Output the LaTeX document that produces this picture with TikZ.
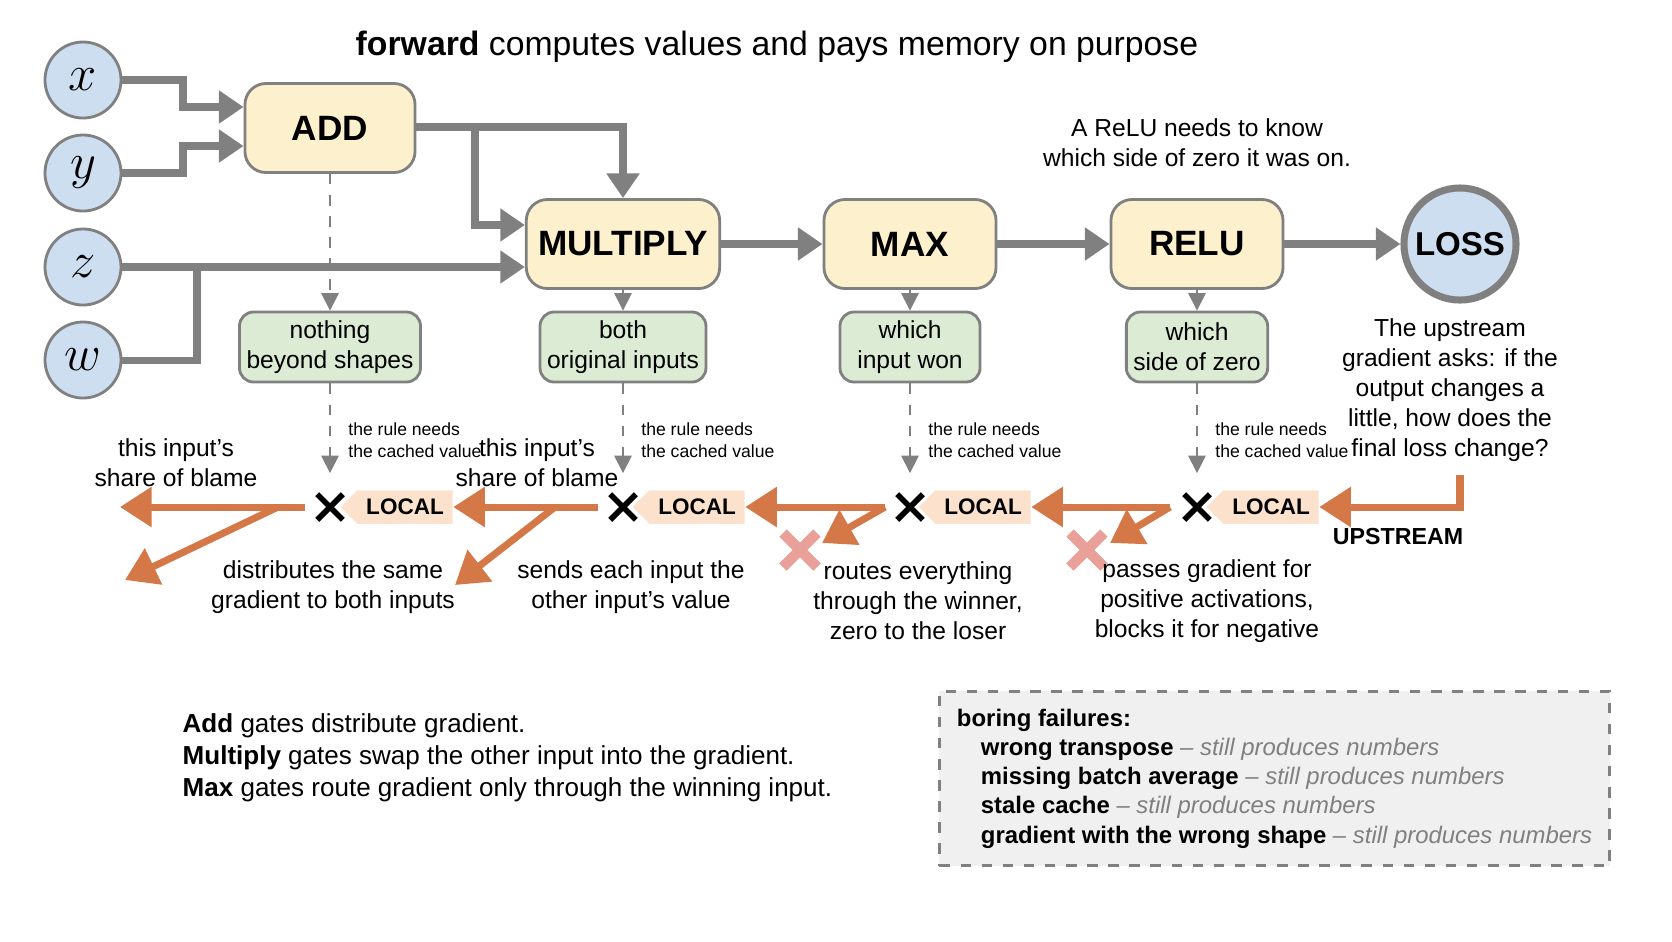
\documentclass[tikz,border=0pt]{standalone}
\usepackage{fontspec}
\setmainfont{Liberation Sans}
\usetikzlibrary{positioning,arrows.meta,shapes.symbols,shapes.misc}
\definecolor{gateFill}{RGB}{253,240,205}
\definecolor{noteFill}{RGB}{220,236,212}
\definecolor{varFill}{RGB}{204,222,240}
\definecolor{gradOrange}{RGB}{212,120,72}
\definecolor{localFill}{RGB}{252,226,204}
\definecolor{wireGray}{RGB}{128,128,128}
\definecolor{dropRed}{RGB}{232,160,152}
\newcommand{\fs}[1]{\fontsize{#1}{1.22\dimexpr#1pt\relax}\selectfont}

\tikzset{
    gate/.style={draw=wireGray, thick, fill=gateFill, rounded corners=6pt,
        minimum width=1.72cm, minimum height=0.89cm, font=\fs{10}\bfseries},
    var/.style={circle, draw=wireGray, thick, fill=varFill, minimum size=0.76cm,
        font=\Large\itshape},
    cache/.style={draw=wireGray, thick, fill=noteFill, rounded corners=4pt,
        minimum height=0.7cm, align=center, font=\fs{7}, inner sep=2pt},
    wire/.style={draw=wireGray, line width=2pt, -{Triangle[length=7pt,width=9pt]}},
    grad/.style={draw=gradOrange, line width=2pt, -{Triangle[length=9pt,width=11pt]}},
    look/.style={draw=wireGray, dashed, -{Triangle[length=5pt,width=5pt]}},
    localtag/.style={signal, signal to=west, fill=localFill, font=\fs{6.4}\bfseries,
        inner sep=2.5pt, minimum height=0.32cm},
    crossmark/.style={cross out, draw=black, line width=1.6pt, minimum size=0.2cm, inner sep=0pt},
    lbl/.style={font=\fs{7}, align=center},
    rule/.style={font=\fs{5}, align=left, anchor=west}
}

\begin{document}
\begin{tikzpicture}[x=0.01cm, y=-0.01cm]
    \useasboundingbox (0,0) rectangle (1672,941);

    % inputs and gates
    \node[var] (x) at (83,80) {$x$};
    \node[var] (y) at (83,173) {$y$};
    \node[var] (z) at (83,267) {$z$};
    \node[var] (w) at (83,360) {$w$};
    \node[gate, minimum width=1.7cm] (add) at (330,128) {ADD};
    \node[gate] (mul) at (623,244) {MULTIPLY};
    \node[gate] (max) at (910,244) {MAX};
    \node[gate] (relu) at (1197,244) {RELU};
    \node[circle, draw=wireGray, line width=2pt, fill=varFill, minimum size=1.12cm,
        inner sep=0pt, font=\fs{9.4}\bfseries] (loss) at (1460,244) {LOSS};

    \node[font=\fs{9.6}] (title) at (777,47) {\textbf{forward} computes values and pays memory on purpose};
    \node[lbl] (relunote) at (1197,143) {A ReLU needs to know\\which side of zero it was on.};

    % forward wires
    \draw[wire] (x.east) -| (183,107) -- (add.west |- 0,107);
    \draw[wire] (y.east) -| (183,146) -- (add.west |- 0,146);
    \draw[wire] (add.east |- 0,127) -| (mul.north);
    \draw[wire] (475,127) |- (mul.west |- 0,225);
    \draw[wire] (z.east) -- (mul.west |- 0,267);
    \draw[line width=2pt, wireGray] (w.east) -| (197,267);
    \draw[wire] (mul) -- (max);
    \draw[wire] (max) -- (relu);
    \draw[wire] (relu) -- (loss);

    % cached values
    \node[cache, minimum width=1.6cm] (c1) at (330,347) {nothing\\beyond shapes};
    \node[cache, minimum width=1.45cm] (c2) at (623,347) {both\\original inputs};
    \node[cache, minimum width=1.4cm] (c3) at (910,347) {which\\input won};
    \node[cache, minimum width=1.4cm] (c4) at (1197,347) {which\\side of zero};

    % multiply points and local tags
    \foreach \n/\px/\tx in {m1/330/405, m2/623/697, m3/910/983, m4/1197/1271}{
        \node[crossmark] (\n) at (\px,507) {};
        \node[localtag] (t\n) at (\tx,507) {LOCAL};
        \node[rule] (r\n) at (\px+6,440) {the rule needs\\the cached value};
    }
    \draw[look, dashed] (add.south) -- (c1.north);
    \draw[look, dashed] (mul.south) -- (c2.north);
    \draw[look, dashed] (max.south) -- (c3.north);
    \draw[look, dashed] (relu.south) -- (c4.north);
    \draw[look] (c1.south) -- ([yshift=6pt]m1.north);
    \draw[look] (c2.south) -- ([yshift=6pt]m2.north);
    \draw[look] (c3.south) -- ([yshift=6pt]m3.north);
    \draw[look] (c4.south) -- ([yshift=6pt]m4.north);

    % backward flow
    \coordinate (up) at (1460,475);
    \draw[grad] (up) |- (tm4.east);
    \node[font=\fs{6.6}\bfseries] (upl) at (1398,536) {UPSTREAM};
    \node[lbl] (asks) at (1450,390) {The upstream\\gradient asks: if the\\output changes a\\little, how does the\\final loss change?};

    \coordinate (g1) at (305,507);  \coordinate (g1e) at (120,507);
    \coordinate (g1b) at (278,507); \coordinate (g1d) at (125,580);
    \coordinate (g2) at (598,507);  \coordinate (g2b) at (555,507);
    \coordinate (g2d) at (455,585);
    \coordinate (g3) at (885,507);  \coordinate (g3d) at (822,543);
    \coordinate (g4) at (1170,507); \coordinate (g4d) at (1110,543);
    \draw[grad] (g1) -- (g1e);
    \draw[grad] (g1b) -- (g1d);
    \draw[grad] (g2) -- (tm1.east);
    \draw[grad] (g2b) -- (g2d);
    \draw[grad] (g3) -- (tm2.east);
    \draw[grad] (g3) -- (g3d);
    \draw[grad] (g4) -- (tm3.east);
    \draw[grad] (g4) -- (g4d);
    \foreach \rx in {800,1087}{
        \draw[dropRed, line width=3pt] (\rx-17,533) -- (\rx+17,567) (\rx-17,567) -- (\rx+17,533);
    }

    % rule captions
    \node[lbl] (b1) at (176,463) {this input’s\\share of blame};
    \node[lbl] (b2) at (537,463) {this input’s\\share of blame};
    \node[lbl] (d1) at (333,587) {distributes the same\\gradient to both inputs};
    \node[lbl] (d2) at (631,587) {sends each input the\\other input’s value};
    \node[lbl] (d3) at (918,601) {routes everything\\through the winner,\\zero to the loser};
    \node[lbl] (d4) at (1207,601) {passes gradient for\\positive activations,\\blocks it for negative};

    % summary
    \node[anchor=north west, align=left, font=\fs{7.4}, inner sep=0pt] (sum) at (182,713)
        {\textbf{Add} gates distribute gradient.\\
         \textbf{Multiply} gates swap the other input into the gradient.\\
         \textbf{Max} gates route gradient only through the winning input.};

    \node[draw=wireGray, thick, dashed, fill=black!6, anchor=north west, align=left,
        minimum width=6.1cm, minimum height=1.68cm, inner sep=5pt, font=\fs{6.8}] (fail) at (938,690)
        {\textbf{boring failures:}\\
         \quad\textbf{wrong transpose} {\color{wireGray}\itshape – still produces numbers}\\
         \quad\textbf{missing batch average} {\color{wireGray}\itshape – still produces numbers}\\
         \quad\textbf{stale cache} {\color{wireGray}\itshape – still produces numbers}\\
         \quad\textbf{gradient with the wrong shape} {\color{wireGray}\itshape – still produces numbers}};
\end{tikzpicture}
\end{document}
